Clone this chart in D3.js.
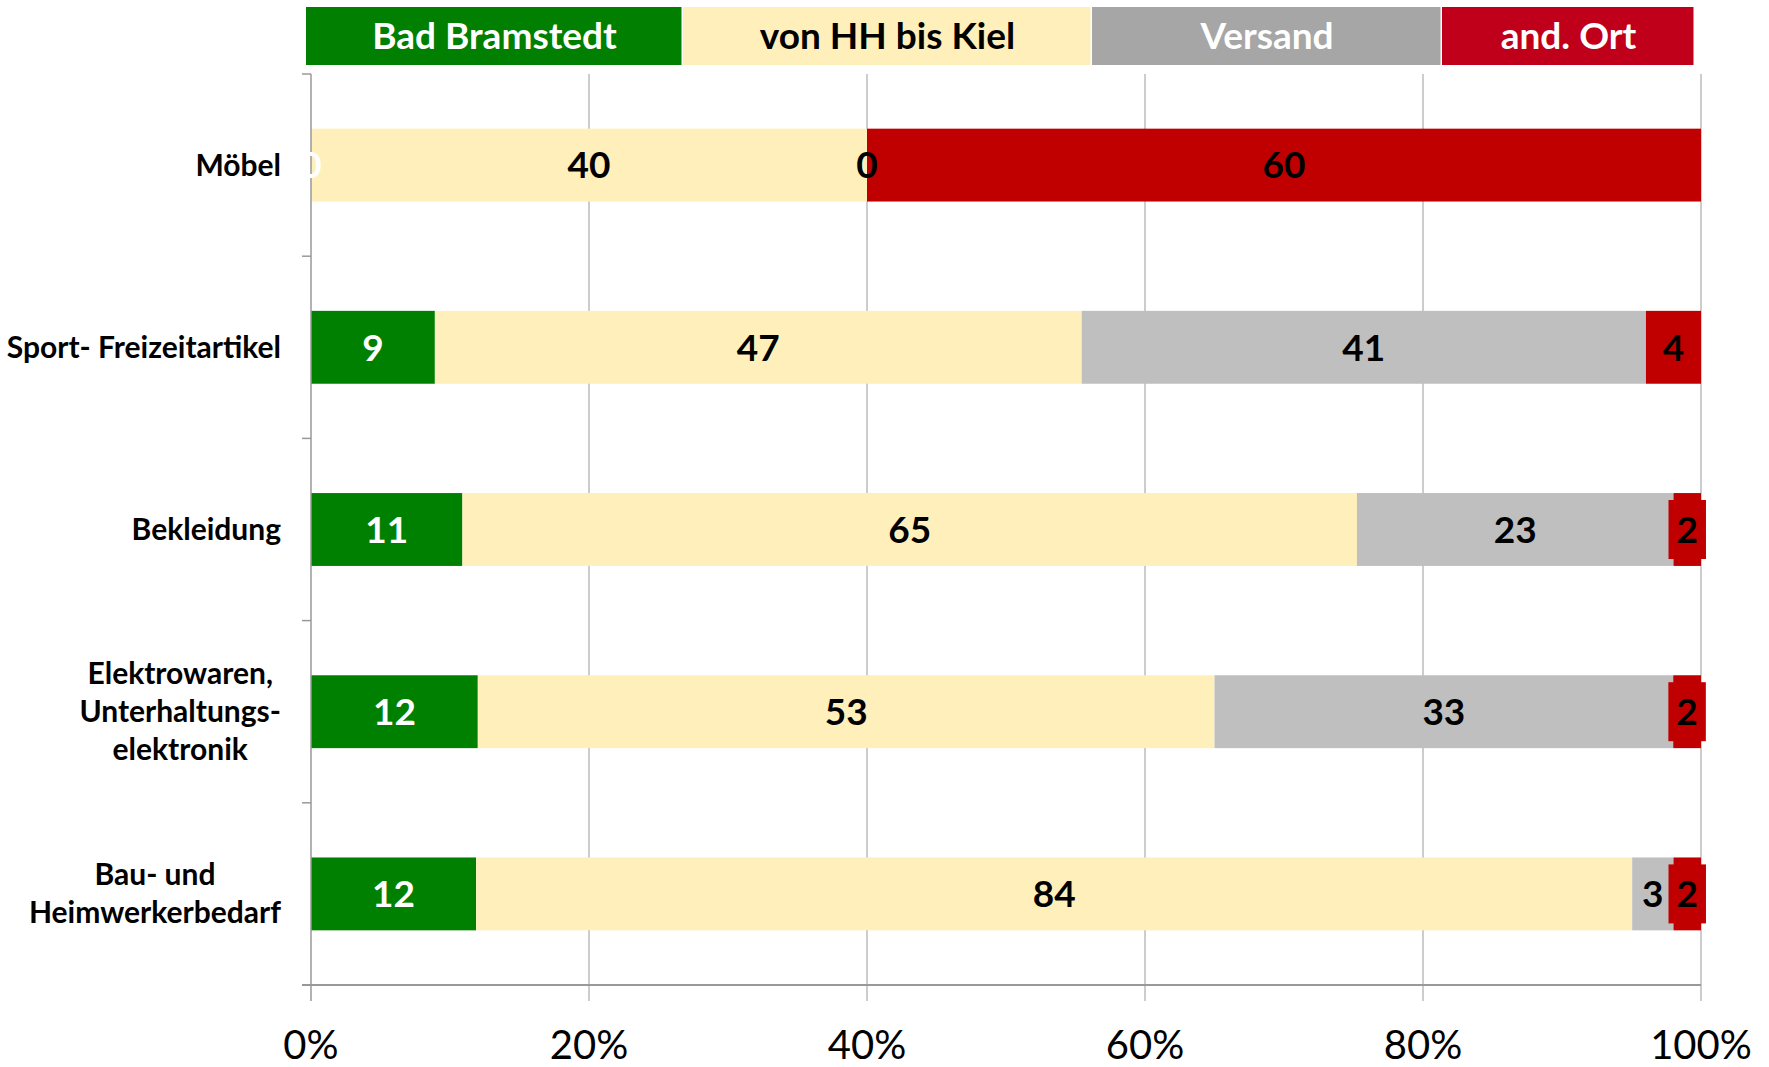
<!DOCTYPE html>
<meta charset="utf-8">
<head>
  <title>Einkaufsorte</title>
</head>
<style>
body {
  margin: 0;
  background: #fff;
  font-family: Lato, "Open Sans", sans-serif;
}
</style>
<body>
  <div id="chart"></div>
  <script src="https://cdnjs.cloudflare.com/ajax/libs/d3/7.8.5/d3.min.js"></script>
  <script>
// data
var categories = ['Möbel', 'Sport- Freizeitartikel', 'Bekleidung',
  'Elektrowaren,\nUnterhaltungs-\nelektronik', 'Bau- und\nHeimwerkerbedarf'];
var seriesNames = ['Bad Bramstedt', 'von HH bis Kiel', 'Versand', 'and. Ort'];
var badBramstedt = [0, 9, 11, 12, 12];
var vonHHbisKiel = [40, 47, 65, 53, 84];
var versand = [0, 41, 23, 33, 3];
var andOrt = [60, 4, 2, 2, 2];
var xTicks = [0, 0.2, 0.4, 0.6, 0.8, 1];

var barColors = ['#008000', '#FFEFBB', '#BFBFBF', '#C00000'];
var legendColors = ['#007F00', '#FFEFBB', '#A6A6A6', '#C0001A'];
var legendText = ['#fff', '#000', '#fff', '#fff'];
var labelColors = ['#fff', '#000', '#000', '#000'];

var W = 1769, H = 1067;

var rows = categories.map(function(c, i) {
  return {cat: c, s0: badBramstedt[i], s1: vonHHbisKiel[i], s2: versand[i], s3: andOrt[i]};
});
var keys = ['s0', 's1', 's2', 's3'];

var stacked = d3.stack().keys(keys).offset(d3.stackOffsetExpand)(rows);

var svg = d3.select('#chart').append('svg')
  .attr('width', W)
  .attr('height', H);

var x = d3.scaleLinear().domain([0, 1]).range([311, 1701]);
var y = d3.scaleBand().domain(categories).range([74, 985]).padding(0);
var bh = y.bandwidth() * 0.4;

// gridlines (behind bars), extending below the axis as tick marks
svg.append('g').selectAll('line')
  .data(xTicks.slice(1))
  .join('line')
  .attr('x1', d => x(d)).attr('x2', d => x(d))
  .attr('y1', 74).attr('y2', 1001)
  .attr('stroke', '#9a9a9a')
  .attr('stroke-width', 1);

// bars
var groups = svg.append('g').selectAll('g')
  .data(stacked)
  .join('g')
  .attr('fill', (d, i) => barColors[i]);

groups.selectAll('rect')
  .data(d => d)
  .join('rect')
  .attr('x', d => x(d[0]))
  .attr('width', d => x(d[1]) - x(d[0]))
  .attr('y', d => y(d.data.cat) + (y.bandwidth() - bh) / 2)
  .attr('height', bh);

// axes
svg.append('line')
  .attr('x1', 302).attr('x2', 1701)
  .attr('y1', 985).attr('y2', 985)
  .attr('stroke', '#999').attr('stroke-width', 2);
svg.append('line')
  .attr('x1', 311).attr('x2', 311)
  .attr('y1', 74).attr('y2', 1001)
  .attr('stroke', '#999').attr('stroke-width', 1.5);

var bounds = categories.map(c => y(c)).concat([985]);
svg.append('g').selectAll('line')
  .data(bounds)
  .join('line')
  .attr('x1', 302).attr('x2', 311)
  .attr('y1', d => d).attr('y2', d => d)
  .attr('stroke', '#999').attr('stroke-width', 1.5);

// x tick labels
svg.append('g').selectAll('text')
  .data(xTicks)
  .join('text')
  .attr('x', d => x(d))
  .attr('y', 1059)
  .attr('text-anchor', 'middle')
  .attr('font-size', 40)
  .attr('fill', '#000')
  .text(d3.format('.0%'));

// category labels: centered lines, block right-aligned
categories.forEach(function(c) {
  var lines = c.split('\n');
  var lh = 38;
  var cy = y(c) + y.bandwidth() / 2;
  var t = svg.append('text')
    .attr('font-size', 30)
    .attr('font-weight', 'bold')
    .attr('text-anchor', 'middle')
    .attr('fill', '#000');
  var spans = lines.map(function(l, i) {
    return t.append('tspan')
      .attr('y', cy + (i - (lines.length - 1) / 2) * lh)
      .attr('dy', '0.35em')
      .text(l);
  });
  var maxW = d3.max(spans, s => s.node().getComputedTextLength());
  spans.forEach(s => s.attr('x', 281 - maxW / 2));
});

// data labels
stacked.forEach(function(layer, si) {
  layer.forEach(function(d, i) {
    var cx = (x(d[0]) + x(d[1])) / 2;
    var cy = y(d.data.cat) + y.bandwidth() / 2;
    var val = rows[i][keys[si]];
    var g = svg.append('g');
    var t = g.append('text')
      .attr('x', cx)
      .attr('y', cy)
      .attr('dy', '0.36em')
      .attr('text-anchor', 'middle')
      .attr('font-size', 37)
      .attr('font-weight', 'bold')
      .attr('fill', labelColors[si])
      .text(val);
    if (si === 3) {
      var tw = t.node().getComputedTextLength();
      g.insert('rect', 'text')
        .attr('x', cx - tw / 2 - 8)
        .attr('width', tw + 16)
        .attr('y', cy - 29.5)
        .attr('height', 59)
        .attr('fill', barColors[3]);
    }
  });
});

// legend across the top
var legendX = [306, 683, 1092, 1442, 1695];
var lg = svg.append('g').selectAll('g')
  .data(seriesNames)
  .join('g');
lg.append('rect')
  .attr('x', (d, i) => legendX[i])
  .attr('width', (d, i) => legendX[i + 1] - legendX[i] - 1.5)
  .attr('y', 7)
  .attr('height', 58)
  .attr('fill', (d, i) => legendColors[i]);
lg.append('text')
  .attr('x', (d, i) => (legendX[i] + legendX[i + 1]) / 2)
  .attr('y', 49)
  .attr('text-anchor', 'middle')
  .attr('font-size', 37)
  .attr('font-weight', 'bold')
  .attr('fill', (d, i) => legendText[i])
  .text(d => d);
  </script>
</body>
</html>
